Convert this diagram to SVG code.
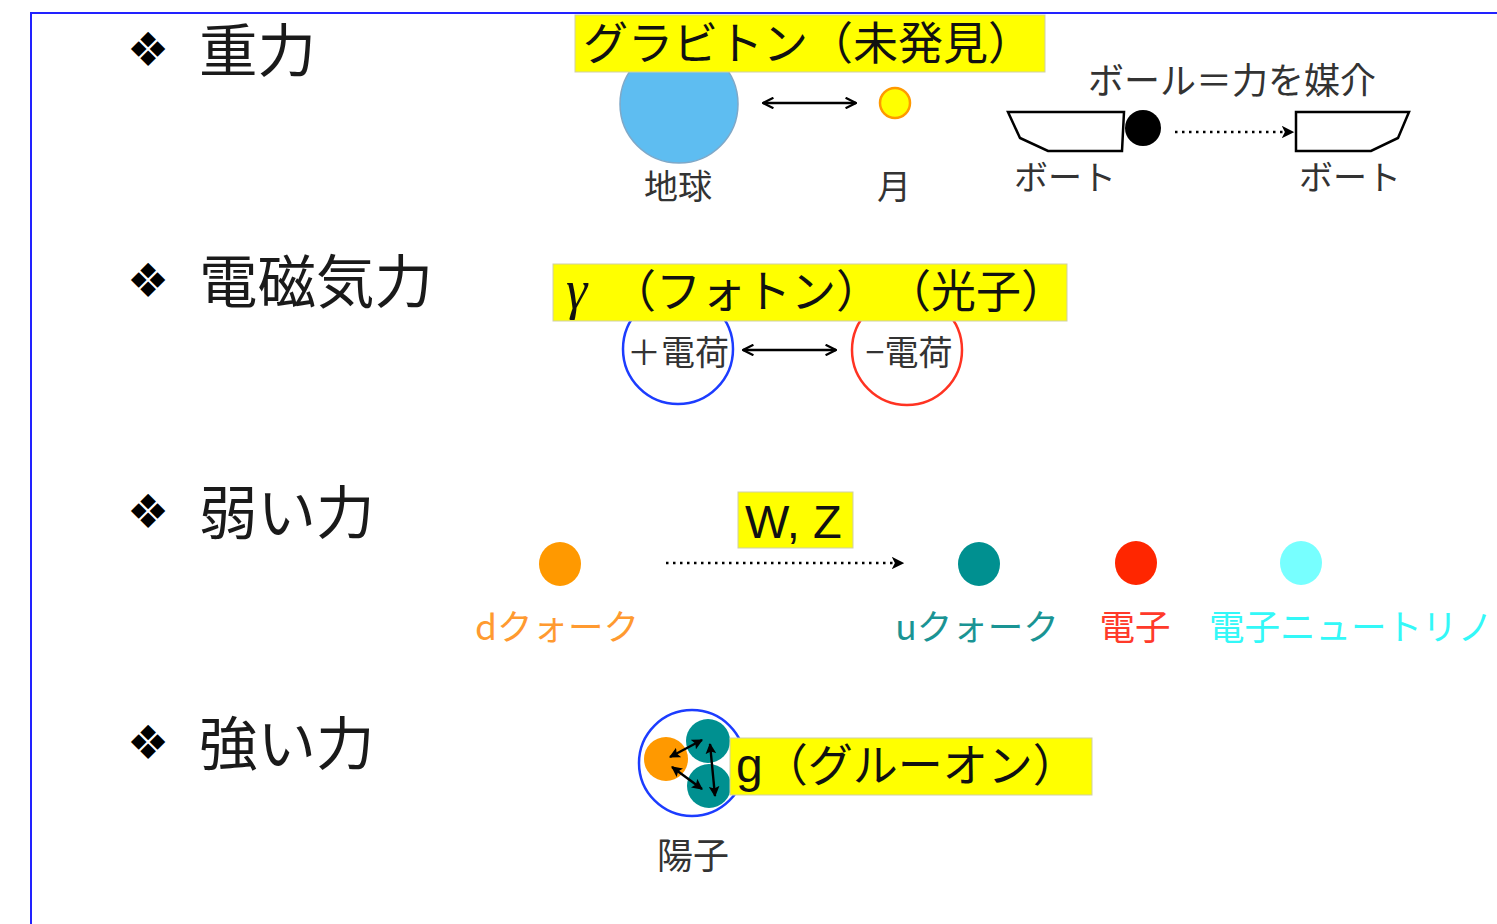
<svg xmlns="http://www.w3.org/2000/svg" width="1497" height="924" viewBox="0 0 1497 924">
<style>
.h{font-family:"Noto Sans CJK JP",sans-serif;font-size:58.5px;fill:#1a1a1a}
.b{font-family:"DejaVu Sans",sans-serif;font-size:47px;fill:#000}
.lbl{font-family:"Noto Sans CJK JP",sans-serif;font-size:34px;fill:#333;text-anchor:middle}
.wl{font-family:"Noto Sans CJK JP",sans-serif;font-size:35.5px}
.ybox{fill:#ffff00;stroke:#cfcfa8;stroke-width:1}
.yt{font-family:"Noto Sans CJK JP",sans-serif;font-size:45px;fill:#111}
.boat{fill:#fff;stroke:#000;stroke-width:2.5;stroke-linejoin:miter}
.dbl{stroke:#000;stroke-width:2.5;fill:none}
.dot{stroke:#000;stroke-width:2.5;stroke-dasharray:2.5 4.5;fill:none}
.ga{stroke:#000;stroke-width:2.4;fill:none}
</style>
<defs>
<marker id="open" viewBox="0 0 12 12" refX="11" refY="6" markerWidth="5" markerHeight="5" orient="auto-start-reverse" markerUnits="strokeWidth">
<path d="M1,1 L11,6 L1,11" fill="none" stroke="#000" stroke-width="2.2"/>
</marker>
<marker id="tri" viewBox="0 0 10 10" refX="9" refY="5" markerWidth="5" markerHeight="5" orient="auto" markerUnits="strokeWidth">
<path d="M0,0 L10,5 L0,10 L2.5,5 Z" fill="#000"/>
</marker>
<marker id="sm" viewBox="0 0 10 10" refX="9" refY="5" markerWidth="4.5" markerHeight="4.5" orient="auto-start-reverse" markerUnits="strokeWidth">
<path d="M0,0 L10,5 L0,10 L2,5 Z" fill="#000"/>
</marker>
</defs>
<rect width="1497" height="924" fill="#fff"/>
<g id="frame"><path d="M31,930 L31,13 L1500,13" fill="none" stroke="#2222ff" stroke-width="2"/></g>

<g id="headings">
<text class="b" x="127" y="66">❖</text><text class="h" x="199" y="72">重力</text>
<text class="b" x="127" y="297">❖</text><text class="h" x="199" y="303">電磁気力</text>
<text class="b" x="127" y="528">❖</text><text class="h" x="199" y="534">弱い力</text>
<text class="b" x="127" y="759">❖</text><text class="h" x="199" y="765">強い力</text>
</g>

<g id="earth"><circle cx="679" cy="104" r="59" fill="#5ebdf1" stroke="#7ea8c8" stroke-width="1.5"/><text class="lbl" x="678" y="199">地球</text></g>
<g id="moon"><circle cx="895" cy="103" r="15" fill="#ffff00" stroke="#ff9900" stroke-width="2.5"/><text class="lbl" x="894" y="199">月</text></g>
<g id="graviton"><rect class="ybox" x="575" y="15" width="470" height="57"/><text class="yt" x="583" y="60">グラビトン（未発見）</text></g>

<g id="boat-label"><text class="lbl" x="1232" y="94" style="font-size:36px">ボール＝力を媒介</text></g>
<g id="boat-left"><polygon class="boat" points="1008,112 1124,112 1122,151 1048,151 1020,138"/><text class="lbl" x="1065" y="190">ボート</text></g>
<g id="ball"><circle cx="1143" cy="128" r="18" fill="#000"/></g>
<g id="boat-right"><polygon class="boat" points="1296,112 1409,112 1398,138 1371,151 1296,151"/><text class="lbl" x="1350" y="190">ボート</text></g>

<g id="pos-charge"><circle cx="678" cy="349" r="55" fill="none" stroke="#1c3cff" stroke-width="2.5"/><text class="lbl" x="678" y="365">＋電荷</text></g>
<g id="neg-charge"><circle cx="907" cy="350" r="55" fill="none" stroke="#ff3322" stroke-width="2.5"/><text class="lbl" x="909" y="365">−電荷</text></g>
<g id="photon"><rect class="ybox" x="553" y="264" width="514" height="57"/><text class="yt" x="566" y="308"><tspan style="font-family:'Liberation Serif',serif;font-style:italic;font-size:54px">γ</tspan><tspan x="611">（フォトン）</tspan><tspan x="886">（光子）</tspan></text></g>

<g id="wz"><rect class="ybox" x="738" y="492" width="115" height="56"/><text x="745" y="538" style="font-family:'Liberation Sans',Arial,sans-serif;font-size:47px;fill:#111">W, Z</text></g>
<g id="dquark"><ellipse cx="560" cy="564" rx="21" ry="22" fill="#ff9900"/><text class="wl" x="557" y="640" text-anchor="middle" fill="#ff9a30">dクォーク</text></g>
<g id="uquark"><ellipse cx="979" cy="564" rx="21" ry="22" fill="#009090"/><text class="wl" x="977" y="640" text-anchor="middle" fill="#1a9494">uクォーク</text></g>
<g id="electron"><ellipse cx="1136" cy="563" rx="21" ry="22" fill="#ff2600"/><text class="wl" x="1135" y="640" text-anchor="middle" fill="#ff3a2a">電子</text></g>
<g id="neutrino"><ellipse cx="1301" cy="563" rx="21" ry="22" fill="#77ffff"/><text class="wl" x="1351" y="640" text-anchor="middle" fill="#33f8f8">電子ニュートリノ</text></g>

<g id="proton">
<circle cx="692" cy="763" r="53" fill="none" stroke="#1c3cff" stroke-width="2.5"/>
<circle cx="666" cy="759" r="22" fill="#ff9900"/>
<circle cx="708" cy="741" r="22" fill="#009090"/>
<circle cx="709" cy="786" r="22" fill="#009090"/>
<text class="lbl" x="693" y="869" style="font-size:36px">陽子</text>
</g>
<g id="gluon"><rect class="ybox" x="730" y="738" width="362" height="57"/><text class="yt" x="736" y="782"><tspan style="font-family:'Liberation Sans',sans-serif;font-size:48px">g</tspan>（グルーオン）</text></g>

<g id="connectors">
<line class="dbl" x1="763" y1="103" x2="856" y2="103" marker-start="url(#open)" marker-end="url(#open)"/>
<line class="dot" x1="1175" y1="132" x2="1293" y2="132" marker-end="url(#tri)"/>
<line class="dbl" x1="743" y1="350" x2="836" y2="350" marker-start="url(#open)" marker-end="url(#open)"/>
<line class="dot" x1="666" y1="563" x2="903" y2="563" marker-end="url(#tri)"/>
<line class="ga" x1="670" y1="757" x2="702" y2="740" marker-start="url(#sm)" marker-end="url(#sm)"/>
<line class="ga" x1="672" y1="767" x2="702" y2="789" marker-start="url(#sm)" marker-end="url(#sm)"/>
<line class="ga" x1="710" y1="744" x2="715" y2="796" marker-start="url(#sm)" marker-end="url(#sm)"/>
</g>
</svg>
